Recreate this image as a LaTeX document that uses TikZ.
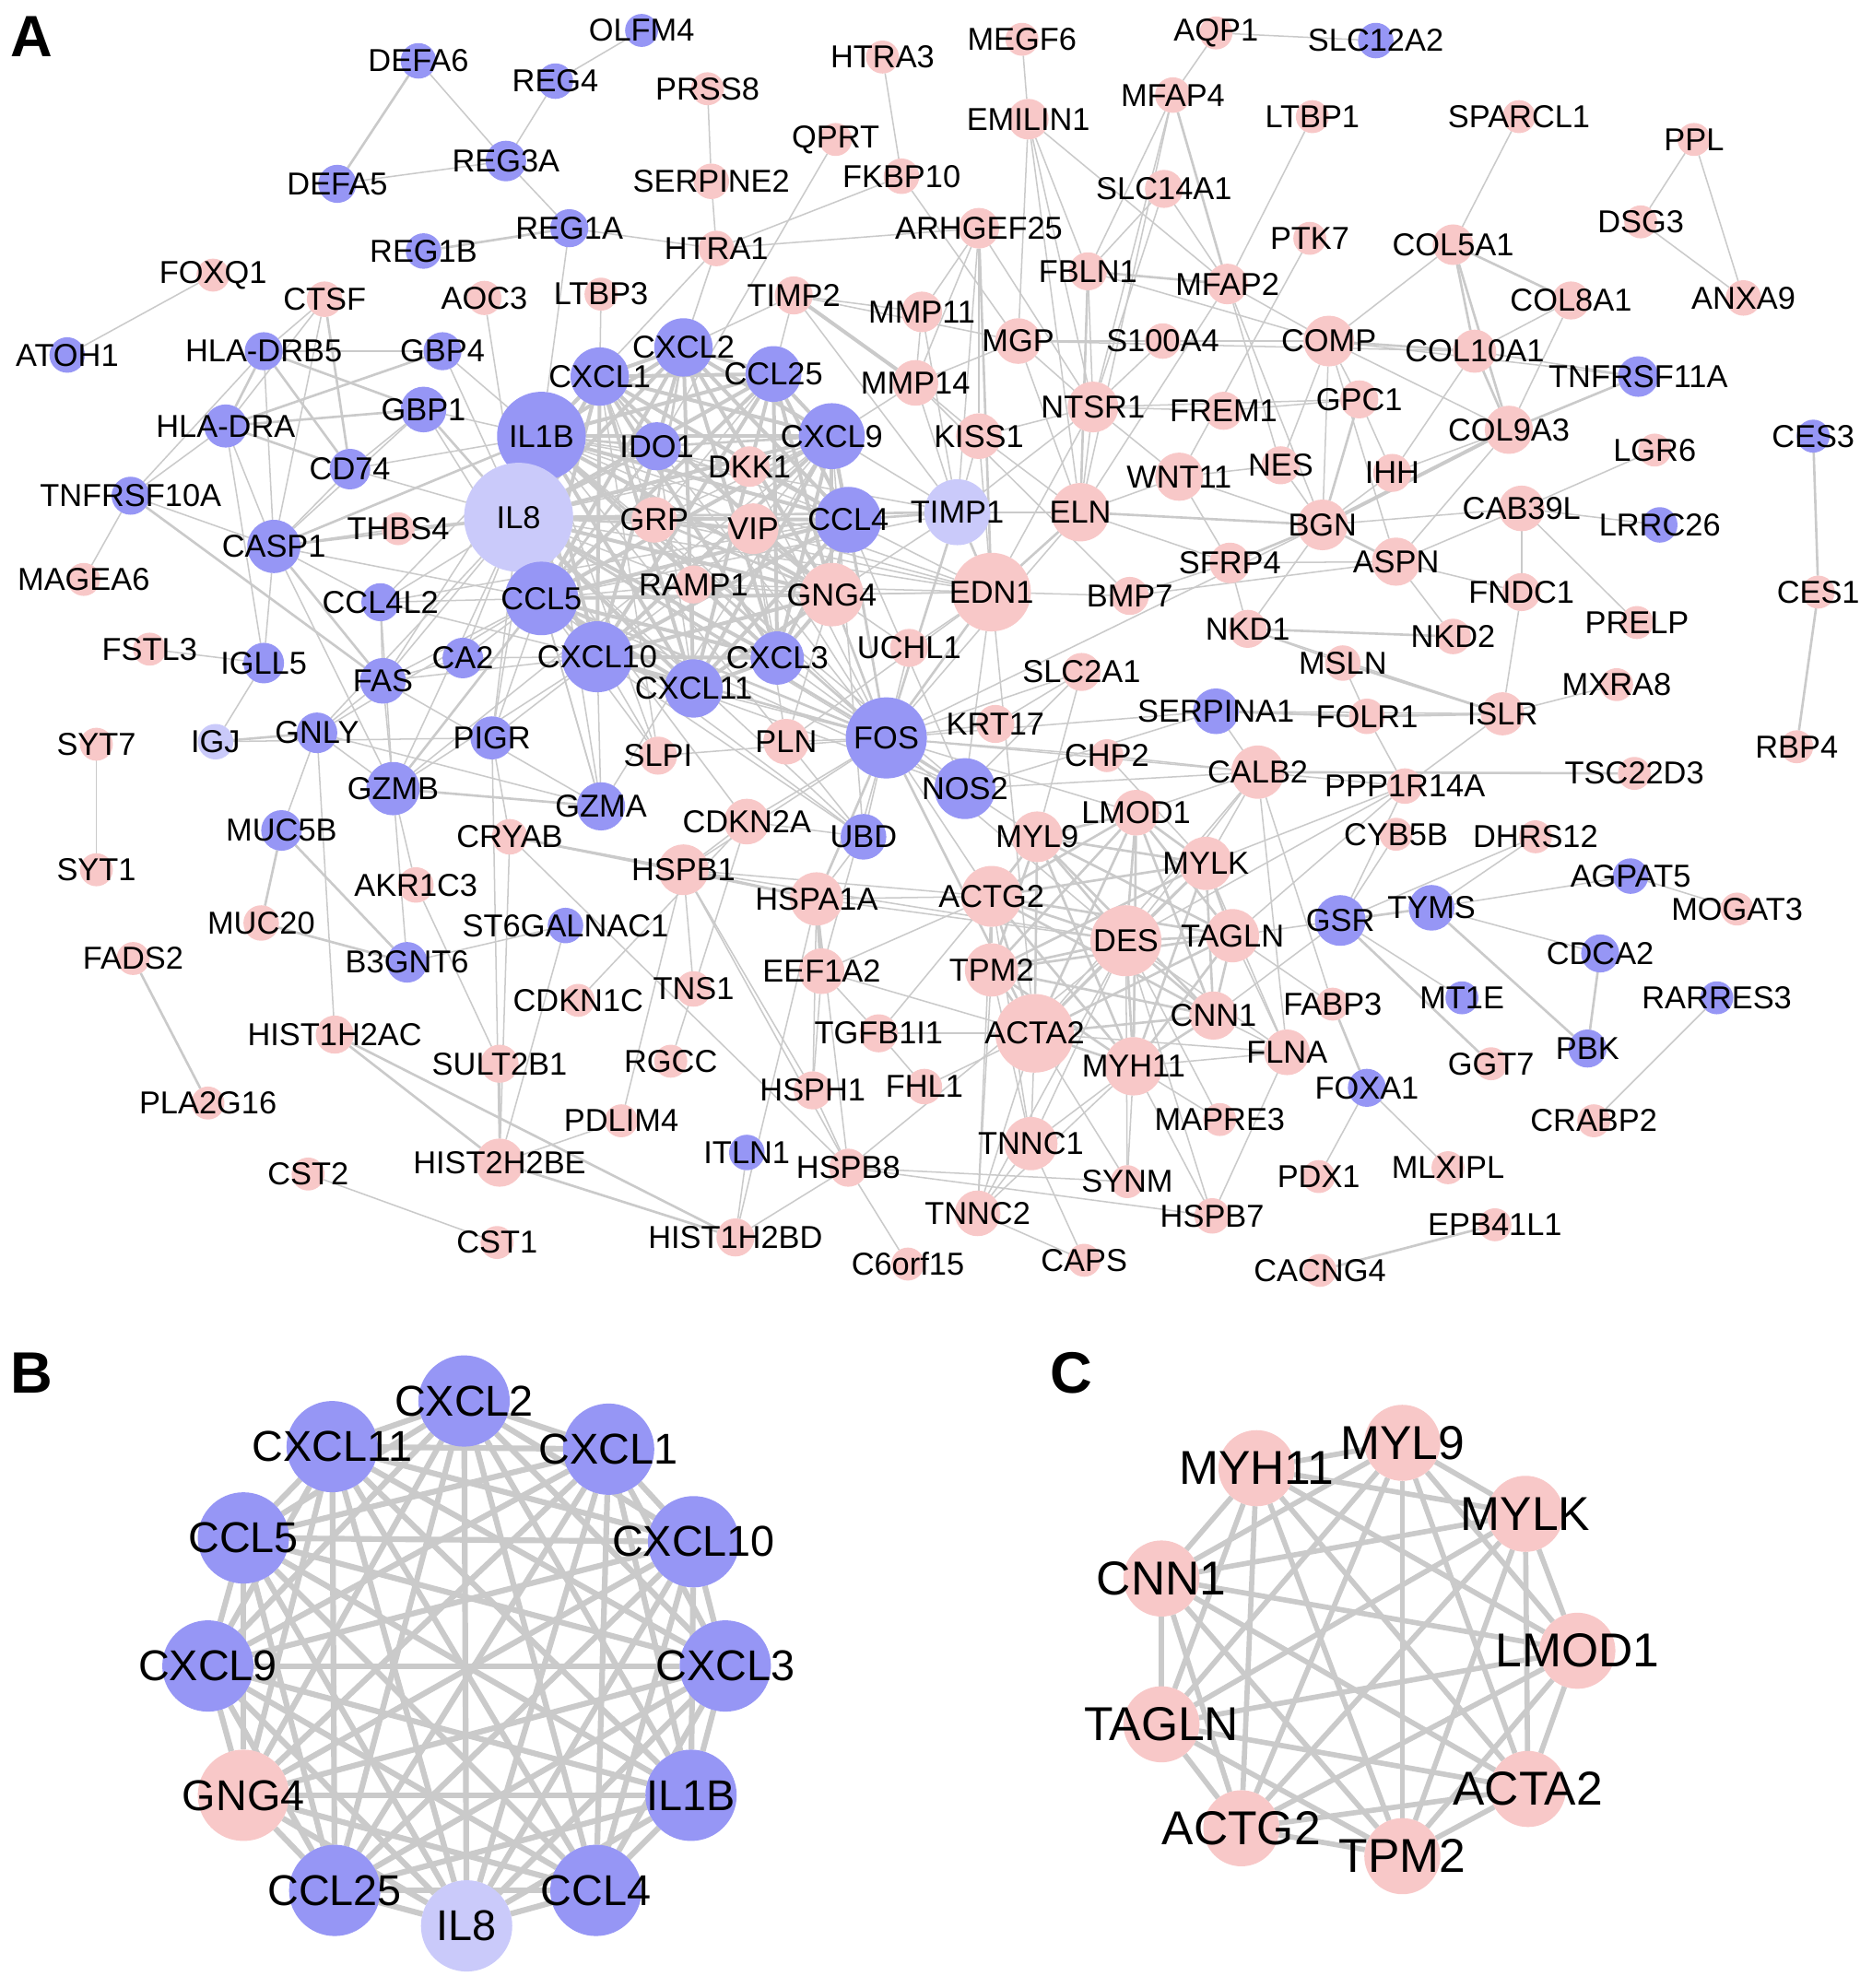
\documentclass[tikz,border=0pt]{standalone}
\usepackage{fontspec}
\setmainfont{Liberation Sans}
\pgfdeclarelayer{background}
\pgfdeclarelayer{fg}
\pgfsetlayers{background,main,fg}
\definecolor{nblue}{RGB}{150,150,245}
\definecolor{npink}{RGB}{248,200,200}
\definecolor{nlav}{RGB}{202,202,250}
\definecolor{egray}{RGB}{202,202,202}
\tikzset{
  gnode/.style={circle,inner sep=0pt,outer sep=0pt,draw=none},
  bl/.style={fill=nblue}, pk/.style={fill=npink}, lv/.style={fill=nlav},
  lblA/.style={inner sep=0pt,font=\fontsize{25}{25}\selectfont},
  lblB/.style={inner sep=0pt,font=\fontsize{34}{34}\selectfont},
  lblC/.style={inner sep=0pt,font=\fontsize{37.5}{37.5}\selectfont},
  panel/.style={inner sep=0pt,font=\fontsize{46}{46}\selectfont\bfseries},
  e1/.style={draw=egray,line width=1.1pt},
  e2/.style={draw=egray,line width=1.9pt},
  e3/.style={draw=egray,line width=2.9pt},
  eB/.style={draw=egray,line width=4.5pt},
  eC/.style={draw=egray,line width=4.1pt},
}
\newcommand\gA[6]{\node[gnode,#5,minimum size=#4pt] (#1) at (#2,#3) {};\begin{pgfonlayer}{fg}\node[lblA] at (#1.center) {#6};\end{pgfonlayer}}
\newcommand\gB[6]{\node[gnode,#5,minimum size=#4pt] (#1) at (#2,#3) {};\begin{pgfonlayer}{fg}\node[lblB] at (#1.center) {#6};\end{pgfonlayer}}
\newcommand\gC[6]{\node[gnode,#5,minimum size=#4pt] (#1) at (#2,#3) {};\begin{pgfonlayer}{fg}\node[lblC] at (#1.center) {#6};\end{pgfonlayer}}
\begin{document}
\begin{tikzpicture}[x=1pt,y=-1pt]
\begin{pgfonlayer}{background}\fill[white] (0,0) rectangle (1476,1568);\end{pgfonlayer}
\useasboundingbox (0,0) rectangle (1476,1568);
\begin{pgfonlayer}{fg}
\node[panel] (labA) at (25,29) {A};
\node[panel] (labB) at (25,1083) {B};
\node[panel] (labC) at (845,1083) {C};
\end{pgfonlayer}
% ---------------- Panel A nodes
\gA{OLFM4}{506}{24}{26}{bl}{OLFM4}
\gA{DEFA6}{330}{48}{28}{bl}{DEFA6}
\gA{REG4}{438}{64}{28}{bl}{REG4}
\gA{REG3A}{399}{127}{32}{bl}{REG3A}
\gA{DEFA5}{266}{145}{30}{bl}{DEFA5}
\gA{REG1A}{449}{180}{30}{bl}{REG1A}
\gA{REG1B}{334}{198}{28}{bl}{REG1B}
\gA{FOXQ1}{168}{217}{26}{pk}{FOXQ1}
\gA{CTSF}{256}{236}{28}{pk}{CTSF}
\gA{AOC3}{382}{235}{27}{pk}{AOC3}
\gA{LTBP3}{474}{232}{26}{pk}{LTBP3}
\gA{ATOH1}{53}{280}{28}{bl}{ATOH1}
\gA{HLADRB5}{208}{277}{30}{bl}{HLA-DRB5}
\gA{GBP4}{349}{277}{30}{bl}{GBP4}
\gA{GBP1}{334}{323}{36}{bl}{GBP1}
\gA{HLADRA}{178}{336}{34}{bl}{HLA-DRA}
\gA{CD74}{276}{370}{32}{bl}{CD74}
\gA{TNFRSF10A}{103}{391}{30}{bl}{TNFRSF10A}
\gA{CASP1}{216}{431}{42}{bl}{CASP1}
\gA{MAGEA6}{66}{457}{26}{pk}{MAGEA6}
\gA{THBS4}{314}{417}{26}{pk}{THBS4}
\gA{CCL4L2}{300}{475}{30}{bl}{CCL4L2}
\gA{IL1B}{427}{344}{70}{bl}{IL1B}
\gA{IL8}{409}{408}{86}{lv}{IL8}
\gA{CCL5}{427}{472}{58}{bl}{CCL5}
\gA{CXCL1}{473}{297}{46}{bl}{CXCL1}
\gA{CXCL2}{539}{274}{46}{bl}{CXCL2}
\gA{CCL25}{610}{295}{44}{bl}{CCL25}
\gA{IDO1}{518}{352}{38}{bl}{IDO1}
\gA{DKK1}{591}{368}{32}{pk}{DKK1}
\gA{CXCL9}{656}{344}{52}{bl}{CXCL9}
\gA{GRP}{516}{410}{36}{pk}{GRP}
\gA{VIP}{594}{417}{40}{pk}{VIP}
\gA{CCL4}{669}{410}{52}{bl}{CCL4}
\gA{TIMP1}{755}{404}{52}{lv}{TIMP1}
\gA{RAMP1}{547}{461}{30}{pk}{RAMP1}
\gA{GNG4}{656}{469}{50}{pk}{GNG4}
\gA{EDN1}{782}{467}{62}{pk}{EDN1}
\gA{CXCL10}{471}{518}{56}{bl}{CXCL10}
\gA{CXCL3}{613}{519}{42}{bl}{CXCL3}
\gA{CXCL11}{547}{543}{46}{bl}{CXCL11}
\gA{UCHL1}{717}{511}{30}{pk}{UCHL1}
\gA{CA2}{365}{519}{32}{bl}{CA2}
\gA{FAS}{302}{537}{36}{bl}{FAS}
\gA{IGLL5}{208}{523}{32}{bl}{IGLL5}
\gA{FSTL3}{118}{512}{26}{pk}{FSTL3}
\gA{SYT7}{76}{587}{26}{pk}{SYT7}
\gA{IGJ}{170}{585}{28}{lv}{IGJ}
\gA{GNLY}{250}{578}{32}{bl}{GNLY}
\gA{PIGR}{388}{582}{34}{bl}{PIGR}
\gA{GZMB}{310}{622}{42}{bl}{GZMB}
\gA{GZMA}{474}{636}{38}{bl}{GZMA}
\gA{MUC5B}{222}{655}{32}{bl}{MUC5B}
\gA{CRYAB}{402}{660}{28}{pk}{CRYAB}
\gA{SYT1}{76}{686}{26}{pk}{SYT1}
\gA{AKR1C3}{328}{698}{28}{pk}{AKR1C3}
\gA{MUC20}{206}{728}{28}{pk}{MUC20}
\gA{ST6GALNAC1}{446}{730}{28}{bl}{ST6GALNAC1}
\gA{FADS2}{105}{756}{26}{pk}{FADS2}
\gA{B3GNT6}{321}{759}{32}{bl}{B3GNT6}
\gA{CDKN1C}{456}{789}{26}{pk}{CDKN1C}
\gA{HIST1H2AC}{264}{816}{30}{pk}{HIST1H2AC}
\gA{SULT2B1}{394}{839}{30}{pk}{SULT2B1}
\gA{PLA2G16}{164}{870}{26}{pk}{PLA2G16}
\gA{PDLIM4}{490}{884}{26}{pk}{PDLIM4}
\gA{HIST2H2BE}{394}{917}{38}{pk}{HIST2H2BE}
\gA{CST2}{243}{926}{26}{pk}{CST2}
\gA{CST1}{392}{980}{26}{pk}{CST1}
\gA{SLPI}{519}{596}{30}{pk}{SLPI}
\gA{PLN}{620}{585}{36}{pk}{PLN}
\gA{FOS}{699}{582}{64}{bl}{FOS}
\gA{KRT17}{785}{571}{30}{pk}{KRT17}
\gA{SLC2A1}{853}{530}{30}{pk}{SLC2A1}
\gA{CHP2}{873}{596}{26}{pk}{CHP2}
\gA{NOS2}{761}{622}{48}{bl}{NOS2}
\gA{CDKN2A}{589}{648}{36}{pk}{CDKN2A}
\gA{UBD}{681}{660}{36}{bl}{UBD}
\gA{LMOD1}{896}{641}{36}{pk}{LMOD1}
\gA{MYL9}{818}{660}{40}{pk}{MYL9}
\gA{MYLK}{951}{681}{42}{pk}{MYLK}
\gA{HSPB1}{539}{686}{40}{pk}{HSPB1}
\gA{HSPA1A}{644}{709}{42}{pk}{HSPA1A}
\gA{ACTG2}{782}{707}{48}{pk}{ACTG2}
\gA{DES}{888}{742}{56}{pk}{DES}
\gA{TAGLN}{972}{738}{42}{pk}{TAGLN}
\gA{EEF1A2}{648}{766}{36}{pk}{EEF1A2}
\gA{TPM2}{782}{765}{42}{pk}{TPM2}
\gA{TNS1}{547}{780}{28}{pk}{TNS1}
\gA{CNN1}{957}{801}{38}{pk}{CNN1}
\gA{ACTA2}{816}{815}{62}{pk}{ACTA2}
\gA{TGFB1I1}{693}{815}{30}{pk}{TGFB1I1}
\gA{MYH11}{894}{841}{46}{pk}{MYH11}
\gA{RGCC}{529}{837}{26}{pk}{RGCC}
\gA{HSPH1}{641}{860}{30}{pk}{HSPH1}
\gA{FHL1}{729}{857}{28}{pk}{FHL1}
\gA{MAPRE3}{962}{883}{26}{pk}{MAPRE3}
\gA{TNNC1}{813}{902}{42}{pk}{TNNC1}
\gA{ITLN1}{589}{909}{28}{bl}{ITLN1}
\gA{HSPB8}{669}{921}{30}{pk}{HSPB8}
\gA{SYNM}{889}{932}{26}{pk}{SYNM}
\gA{HSPB7}{956}{959}{28}{pk}{HSPB7}
\gA{TNNC2}{771}{957}{36}{pk}{TNNC2}
\gA{HIST1H2BD}{580}{976}{30}{pk}{HIST1H2BD}
\gA{CAPS}{855}{994}{26}{pk}{CAPS}
\gA{C6orf15}{716}{997}{26}{pk}{C6orf15}
\gA{FLNA}{1015}{830}{36}{pk}{FLNA}
\gA{FABP3}{1051}{792}{26}{pk}{FABP3}
\gA{FOXA1}{1078}{858}{30}{bl}{FOXA1}
\gA{PDX1}{1040}{928}{26}{pk}{PDX1}
\gA{MLXIPL}{1142}{921}{26}{pk}{MLXIPL}
\gA{EPB41L1}{1179}{966}{26}{pk}{EPB41L1}
\gA{CACNG4}{1041}{1002}{26}{pk}{CACNG4}
\gA{GSR}{1057}{726}{40}{bl}{GSR}
\gA{TYMS}{1129}{716}{36}{bl}{TYMS}
\gA{MT1E}{1153}{787}{26}{bl}{MT1E}
\gA{GGT7}{1176}{839}{26}{pk}{GGT7}
\gA{CDCA2}{1262}{752}{30}{bl}{CDCA2}
\gA{PBK}{1252}{827}{30}{bl}{PBK}
\gA{RARRES3}{1354}{787}{26}{bl}{RARRES3}
\gA{CRABP2}{1257}{884}{26}{pk}{CRABP2}
\gA{AGPAT5}{1286}{691}{28}{bl}{AGPAT5}
\gA{MOGAT3}{1370}{717}{26}{pk}{MOGAT3}
\gA{CYB5B}{1101}{658}{26}{pk}{CYB5B}
\gA{DHRS12}{1211}{660}{26}{pk}{DHRS12}
\gA{PPP1R14A}{1108}{620}{28}{pk}{PPP1R14A}
\gA{TSC22D3}{1289}{610}{26}{pk}{TSC22D3}
\gA{CALB2}{992}{609}{42}{pk}{CALB2}
\gA{SERPINA1}{959}{561}{36}{bl}{SERPINA1}
\gA{FOLR1}{1078}{565}{28}{pk}{FOLR1}
\gA{ISLR}{1185}{563}{34}{pk}{ISLR}
\gA{MXRA8}{1275}{540}{26}{pk}{MXRA8}
\gA{RBP4}{1417}{589}{26}{pk}{RBP4}
\gA{MSLN}{1059}{523}{28}{pk}{MSLN}
\gA{NKD1}{984}{496}{30}{pk}{NKD1}
\gA{NKD2}{1146}{502}{28}{pk}{NKD2}
\gA{PRELP}{1291}{491}{26}{pk}{PRELP}
\gA{FNDC1}{1200}{467}{30}{pk}{FNDC1}
\gA{CES1}{1434}{467}{26}{pk}{CES1}
\gA{ASPN}{1101}{443}{38}{pk}{ASPN}
\gA{BGN}{1043}{414}{40}{pk}{BGN}
\gA{CAB39L}{1200}{401}{36}{pk}{CAB39L}
\gA{LRRC26}{1309}{414}{28}{bl}{LRRC26}
\gA{LGR6}{1305}{355}{26}{pk}{LGR6}
\gA{CES3}{1430}{344}{26}{bl}{CES3}
\gA{IHH}{1098}{373}{30}{pk}{IHH}
\gA{NES}{1010}{367}{30}{pk}{NES}
\gA{GPC1}{1072}{315}{30}{pk}{GPC1}
\gA{COL9A3}{1190}{339}{38}{pk}{COL9A3}
\gA{TNFRSF11A}{1292}{297}{32}{bl}{TNFRSF11A}
\gA{COL10A1}{1163}{277}{34}{pk}{COL10A1}
\gA{COMP}{1048}{269}{40}{pk}{COMP}
\gA{COL8A1}{1239}{237}{30}{pk}{COL8A1}
\gA{ANXA9}{1375}{235}{28}{pk}{ANXA9}
\gA{COL5A1}{1146}{193}{32}{pk}{COL5A1}
\gA{DSG3}{1294}{175}{26}{pk}{DSG3}
\gA{PPL}{1336}{110}{26}{pk}{PPL}
\gA{SPARCL1}{1198}{92}{26}{pk}{SPARCL1}
\gA{LTBP1}{1035}{92}{26}{pk}{LTBP1}
\gA{PTK7}{1033}{188}{26}{pk}{PTK7}
\gA{SLC12A2}{1085}{32}{28}{bl}{SLC12A2}
\gA{AQP1}{959}{26}{26}{pk}{AQP1}
\gA{MFAP4}{925}{75}{28}{pk}{MFAP4}
\gA{MEGF6}{806}{31}{26}{pk}{MEGF6}
\gA{EMILIN1}{811}{94}{32}{pk}{EMILIN1}
\gA{HTRA3}{696}{45}{26}{pk}{HTRA3}
\gA{PRSS8}{558}{70}{26}{pk}{PRSS8}
\gA{QPRT}{659}{110}{26}{pk}{QPRT}
\gA{FKBP10}{711}{139}{28}{pk}{FKBP10}
\gA{SERPINE2}{561}{143}{28}{pk}{SERPINE2}
\gA{SLC14A1}{918}{149}{30}{pk}{SLC14A1}
\gA{ARHGEF25}{772}{180}{32}{pk}{ARHGEF25}
\gA{HTRA1}{565}{196}{28}{pk}{HTRA1}
\gA{FBLN1}{858}{214}{30}{pk}{FBLN1}
\gA{MFAP2}{968}{224}{32}{pk}{MFAP2}
\gA{TIMP2}{626}{233}{30}{pk}{TIMP2}
\gA{MMP11}{727}{246}{32}{pk}{MMP11}
\gA{MGP}{803}{269}{36}{pk}{MGP}
\gA{S100A4}{917}{269}{28}{pk}{S100A4}
\gA{MMP14}{722}{302}{36}{pk}{MMP14}
\gA{NTSR1}{862}{321}{40}{pk}{NTSR1}
\gA{FREM1}{965}{324}{30}{pk}{FREM1}
\gA{KISS1}{772}{344}{36}{pk}{KISS1}
\gA{WNT11}{930}{376}{38}{pk}{WNT11}
\gA{ELN}{852}{404}{46}{pk}{ELN}
\gA{SFRP4}{970}{444}{32}{pk}{SFRP4}
\gA{BMP7}{891}{470}{30}{pk}{BMP7}
% ---------------- Panel B nodes
\gB{bCXCL2}{366}{1105}{72}{bl}{CXCL2}
\gB{bCXCL11}{262}{1141}{72}{bl}{CXCL11}
\gB{bCXCL1}{480}{1143}{72}{bl}{CXCL1}
\gB{bCCL5}{192}{1213}{72}{bl}{CCL5}
\gB{bCXCL10}{547}{1216}{72}{bl}{CXCL10}
\gB{bCXCL9}{164}{1314}{72}{bl}{CXCL9}
\gB{bCXCL3}{572}{1314}{72}{bl}{CXCL3}
\gB{bGNG4}{192}{1416}{72}{pk}{GNG4}
\gB{bIL1B}{545}{1416}{72}{bl}{IL1B}
\gB{bCCL25}{264}{1491}{72}{bl}{CCL25}
\gB{bCCL4}{470}{1491}{72}{bl}{CCL4}
\gB{bIL8}{368}{1519}{72}{lv}{IL8}
% ---------------- Panel C nodes
\gC{cMYL9}{1106}{1138}{60}{pk}{MYL9}
\gC{cMYH11}{991}{1158}{60}{pk}{MYH11}
\gC{cMYLK}{1203}{1194}{60}{pk}{MYLK}
\gC{cCNN1}{916}{1245}{60}{pk}{CNN1}
\gC{cLMOD1}{1244}{1302}{60}{pk}{LMOD1}
\gC{cTAGLN}{916}{1360}{60}{pk}{TAGLN}
\gC{cACTA2}{1205}{1411}{60}{pk}{ACTA2}
\gC{cACTG2}{979}{1442}{60}{pk}{ACTG2}
\gC{cTPM2}{1106}{1464}{60}{pk}{TPM2}
% ---------------- Edges
\begin{pgfonlayer}{background}
\def\Alist{IL1B,IL8,CCL5,CXCL1,CXCL2,CCL25,CXCL9,CCL4,CXCL10,CXCL3,CXCL11,GNG4}
\foreach \a [count=\i] in \Alist {\foreach \b [count=\j] in \Alist {\ifnum\j>\i\relax \draw[e3] (\a)--(\b);\fi}}
\def\Slist{MYH11,MYL9,MYLK,CNN1,LMOD1,TAGLN,ACTA2,ACTG2,TPM2,DES}
\foreach \a [count=\i] in \Slist {\foreach \b [count=\j] in \Slist {\ifnum\j>\i\relax \draw[e2] (\a)--(\b);\fi}}
\foreach \a/\b in {HSPA1A/EEF1A2,TIMP2/MMP14,COL9A3/BGN} \draw[e3] (\a)--(\b);
\foreach \a/\b in {DEFA6/DEFA5,REG1B/REG1A,CTSF/CD74,HLADRB5/GBP4,HLADRB5/HLADRA,HLADRB5/CD74,HLADRB5/GBP1,HLADRA/GBP1,HLADRA/CD74,HLADRA/GBP4,GBP1/IL8,TNFRSF10A/FAS,IGJ/GNLY,MUC5B/MUC20,MUC5B/B3GNT6,MUC20/B3GNT6,HIST1H2AC/HIST2H2BE,HIST1H2AC/HIST1H2BD,HIST2H2BE/HIST1H2BD,FADS2/PLA2G16,CRYAB/HSPB1,MFAP4/MFAP2,FBLN1/MFAP2,FBLN1/ELN,ARHGEF25/EDN1,MGP/COMP,ELN/EDN1,ELN/BGN,SFRP4/BGN,COL5A1/COL8A1,COL5A1/COL10A1,COL5A1/COL9A3,COL10A1/COL9A3,COL10A1/COMP,COL9A3/TNFRSF11A,GPC1/BGN,BGN/ASPN,NKD1/NKD2,MSLN/ISLR,SERPINA1/FOLR1,FOLR1/ISLR,GSR/TYMS,GSR/GGT7,TYMS/PBK,CDCA2/PBK,FABP3/FOXA1,EPB41L1/CACNG4,CES3/CES1,CES1/RBP4,HSPB1/HSPA1A,CALB2/TSC22D3,IDO1/IL1B,IDO1/IL8,IDO1/CCL5,IDO1/CXCL9,IDO1/CXCL10,IDO1/CXCL1,IDO1/CXCL2,GRP/GNG4,GRP/VIP,GRP/IL8,GRP/CXCL2,VIP/GNG4,VIP/CCL4,VIP/IL8,TIMP1/IL8,TIMP1/FOS,TIMP1/CCL4,TIMP1/EDN1,FOS/IL8,FOS/IL1B,FOS/CCL5,FOS/CCL4,FOS/CXCL10,FOS/GNG4,FOS/EDN1,FOS/NOS2,FOS/HSPA1A,FOS/ACTA2,CASP1/IL1B,CASP1/IL8,FAS/CASP1,GZMB/GZMA,GZMB/CCL5} \draw[e2] (\a)--(\b);
\foreach \a/\b in {DEFA6/REG3A,REG4/REG3A,REG4/OLFM4,DEFA5/REG3A,REG3A/REG1A,REG1A/HTRA1,REG1A/IL1B,FOXQ1/ATOH1,CTSF/HLADRB5,CTSF/HLADRA,CTSF/CASP1,HLADRB5/CASP1,HLADRB5/TNFRSF10A,HLADRA/CASP1,HLADRA/TNFRSF10A,HLADRA/IGLL5,GBP4/IL8,GBP4/IL1B,GBP1/CD74,GBP1/IL1B,GBP1/CCL5,GBP1/CASP1,CD74/IL8,CD74/IL1B,CD74/CASP1,AOC3/IL8,LTBP3/CXCL1,TNFRSF10A/MAGEA6,TNFRSF10A/CASP1,THBS4/IL8,THBS4/CASP1,FSTL3/IGLL5,IGLL5/IGJ,IGLL5/CASP1,IGJ/PIGR,GNLY/GZMA,GNLY/GZMB,GNLY/FAS,GNLY/MUC5B,GNLY/IL8,GNLY/CCL5,B3GNT6/ST6GALNAC1,B3GNT6/GZMB,AKR1C3/SULT2B1,AKR1C3/GZMB,HIST1H2AC/GNLY,SULT2B1/HIST2H2BE,HIST2H2BE/CRYAB,HIST2H2BE/ST6GALNAC1,HIST2H2BE/PDLIM4,HIST2H2BE/PIGR,CST2/CST1,SYT7/SYT1,CRYAB/HSPB8,CRYAB/PIGR,CRYAB/HSPA1A,CDKN1C/CDKN2A,ITLN1/HIST1H2BD,RGCC/CDKN2A,TNS1/HSPB1,PDLIM4/HSPB1,HIST1H2BD/HSPB8,HIST1H2BD/HSPA1A} \draw[e1] (\a)--(\b);
\foreach \a/\b in {HTRA3/FKBP10,PRSS8/SERPINE2,SERPINE2/HTRA1,QPRT/IDO1,FKBP10/HTRA1,FKBP10/MGP,HTRA1/CXCL2,HTRA1/IL1B,MEGF6/EMILIN1,EMILIN1/FBLN1,EMILIN1/MGP,EMILIN1/MFAP2,EMILIN1/ELN,EMILIN1/NTSR1,AQP1/SLC12A2,AQP1/MFAP4,MFAP4/FBLN1,MFAP4/ELN,MFAP4/NTSR1,SLC14A1/FBLN1,SLC14A1/MFAP2,SLC14A1/NTSR1,LTBP1/MFAP2,FBLN1/NTSR1,FBLN1/COMP,TIMP2/MMP11,TIMP2/CXCL2,TIMP2/CCL25,TIMP2/MGP,TIMP2/TIMP1,ARHGEF25/MMP11,ARHGEF25/MMP14,ARHGEF25/KISS1,ARHGEF25/NTSR1,ARHGEF25/HTRA1,ARHGEF25/TIMP1,MMP11/MMP14,MMP11/TIMP1,MMP14/KISS1,MMP14/TIMP1,MMP14/CXCL9,MMP14/MGP,MGP/S100A4,MGP/NTSR1,MGP/ELN,MGP/COL10A1,S100A4/COMP,S100A4/NTSR1,MFAP2/COMP,MFAP2/ELN,MFAP2/NES,MFAP2/BGN,NTSR1/KISS1,NTSR1/ELN,NTSR1/EDN1,NTSR1/TIMP1,NTSR1/GPC1,NTSR1/FREM1,PTK7/WNT11,SPARCL1/COL5A1,WNT11/SFRP4,WNT11/NES,WNT11/ELN,WNT11/BGN,WNT11/NTSR1,ELN/TIMP1,ELN/SFRP4,ELN/KISS1,ELN/FOS,EDN1/NOS2,EDN1/CCL4,EDN1/GNG4,EDN1/VIP,EDN1/BMP7,EDN1/KISS1,EDN1/ACTA2,EDN1/IL8,EDN1/IL1B,EDN1/CCL5,BMP7/SFRP4,BMP7/MMP14,BMP7/ASPN,SFRP4/NKD1,SFRP4/ASPN,KISS1/TIMP1,FREM1/GPC1} \draw[e1] (\a)--(\b);
\foreach \a/\b in {COL5A1/COMP,COL8A1/COL10A1,COL8A1/COL9A3,COL9A3/COMP,COL9A3/IHH,COL9A3/ASPN,COMP/BGN,COMP/ASPN,COMP/TNFRSF11A,COMP/GPC1,COMP/NES,COL10A1/IHH,COL10A1/TNFRSF11A,GPC1/IHH,BGN/NES,BGN/IHH,BGN/CAB39L,BGN/NKD1,ASPN/FNDC1,ASPN/NKD2,ASPN/CAB39L,CAB39L/LGR6,CAB39L/LRRC26,CAB39L/PRELP,CAB39L/FNDC1,FNDC1/ISLR,NKD1/MSLN,NKD1/ISLR,MSLN/FOLR1,SERPINA1/ISLR,SERPINA1/CALB2,ISLR/MXRA8,ISLR/PPP1R14A,FOLR1/PPP1R14A,CALB2/PPP1R14A,CALB2/FABP3,CALB2/DES,CALB2/MYLK,CALB2/LMOD1,CALB2/ACTA2,CALB2/FLNA,PPP1R14A/MYLK,PPP1R14A/DES,PPP1R14A/GSR,PPP1R14A/TAGLN,CYB5B/GSR,DHRS12/TYMS,DHRS12/GSR,GSR/MT1E,GSR/TAGLN,GSR/CNN1,TYMS/CDCA2,TYMS/AGPAT5,AGPAT5/MOGAT3,RARRES3/CRABP2,FABP3/TAGLN,FOXA1/PDX1,FOXA1/MLXIPL,PPL/DSG3,PPL/ANXA9,DSG3/ANXA9} \draw[e1] (\a)--(\b);
\foreach \a/\b in {IDO1/CCL4,IDO1/CXCL11,IDO1/FOS,GRP/RAMP1,GRP/CXCL1,GRP/CCL25,GRP/CXCL9,GRP/CCL4,GRP/FOS,GRP/EDN1,VIP/RAMP1,VIP/CXCL9,VIP/IL1B,VIP/FOS,VIP/CXCL3,VIP/PLN,RAMP1/GNG4,RAMP1/IL8,RAMP1/CCL5,RAMP1/CXCL10,RAMP1/CXCL11,RAMP1/EDN1,DKK1/CXCL9,DKK1/IL8,DKK1/FOS,DKK1/IL1B,DKK1/CCL4,TIMP1/IL1B,TIMP1/CXCL9,TIMP1/GNG4,TIMP1/CCL5,FOS/CXCL11,FOS/CXCL3,FOS/CXCL9,FOS/UBD,FOS/CDKN2A,FOS/HSPB1,FOS/ACTG2,FOS/EEF1A2,FOS/KRT17,FOS/SLC2A1,FOS/PLN,FOS/SLPI,FOS/UCHL1,FOS/SERPINA1,FOS/DES,FOS/MYL9,FOS/CALB2,FOS/BGN,FOS/LMOD1,FOS/CHP2,NOS2/IL1B,NOS2/IL8,NOS2/CCL4,NOS2/CCL5,NOS2/CXCL10,NOS2/SLC2A1,NOS2/SERPINA1,NOS2/CALB2,CA2/IL8,CA2/CCL5,CA2/CXCL10,CA2/FAS,PIGR/IL8,PIGR/IL1B,PIGR/CCL5,PIGR/CXCL10,GZMA/CCL5,GZMA/CXCL10,GZMA/IL8,GZMA/IL1B,GZMA/FAS,GZMA/CXCL9,GZMB/FAS,GZMB/IL8,GZMB/CXCL10,GZMB/CXCL9,GZMB/CCL4L2,GZMB/CASP1,FAS/IL8,FAS/IL1B,FAS/CCL5,FAS/CXCL10,FAS/CCL4L2,CASP1/CCL5,CASP1/CCL4L2,CCL4L2/CCL5,CCL4L2/IL8,CCL4L2/CCL4,CCL4L2/CXCL10,CCL4L2/IL1B,UBD/IL8,UBD/IL1B,UBD/CCL5,UBD/CXCL10,UBD/CXCL9,UBD/CDKN2A,SLPI/IL8,SLPI/IL1B,SLPI/CXCL1,SLPI/CCL5,PLN/GNG4,PLN/EDN1,CDKN2A/HSPB1,CDKN2A/IL8,UCHL1/GNG4,UCHL1/EDN1,KRT17/SLC2A1} \draw[e1] (\a)--(\b);
\foreach \a/\b in {TNNC1/TNNC2,TNNC1/ACTA2,TNNC1/MYH11,TNNC1/DES,TNNC1/TPM2,TNNC1/CAPS,TNNC1/ACTG2,TNNC2/ACTA2,TNNC2/TPM2,TNNC2/ACTG2,TNNC2/MYH11,TNNC2/DES,TNNC2/CAPS,SYNM/DES,SYNM/MYH11,SYNM/ACTA2,SYNM/HSPB8,HSPB7/DES,HSPB7/MYH11,HSPB7/FLNA,HSPB7/HSPB8,MAPRE3/MYH11,MAPRE3/DES,FLNA/DES,FLNA/ACTA2,FLNA/MYH11,FLNA/TAGLN,FLNA/CNN1,FLNA/MYLK,HSPB1/HSPB8,HSPB1/HSPH1,HSPB1/DES,HSPB1/ACTG2,HSPA1A/HSPH1,HSPA1A/HSPB8,HSPA1A/ACTG2,HSPA1A/DES,HSPA1A/UBD,EEF1A2/TGFB1I1,EEF1A2/HSPH1,EEF1A2/ACTA2,EEF1A2/ACTG2,HSPH1/HSPB8,HSPB8/DES,FHL1/ACTA2,FHL1/TGFB1I1,TGFB1I1/ACTA2,TGFB1I1/ACTG2,C6orf15/HSPB8,CHP2/CALB2,MYL9/SLC2A1,MYLK/CHP2} \draw[e1] (\a)--(\b);
% Panel B clique
\def\Blist{CXCL2,CXCL1,CXCL10,CXCL3,IL1B,CCL4,IL8,CCL25,GNG4,CXCL9,CCL5,CXCL11}
\foreach \a [count=\i] in \Blist {\foreach \b [count=\j] in \Blist {\ifnum\j>\i\relax \draw[eB] (b\a)--(b\b);\fi}}
% Panel C clique
\def\Clist{MYL9,MYLK,LMOD1,ACTA2,TPM2,ACTG2,TAGLN,CNN1,MYH11}
\foreach \a [count=\i] in \Clist {\foreach \b [count=\j] in \Clist {\ifnum\j>\i\relax \draw[eC] (c\a)--(c\b);\fi}}
\end{pgfonlayer}
\end{tikzpicture}
\end{document}
